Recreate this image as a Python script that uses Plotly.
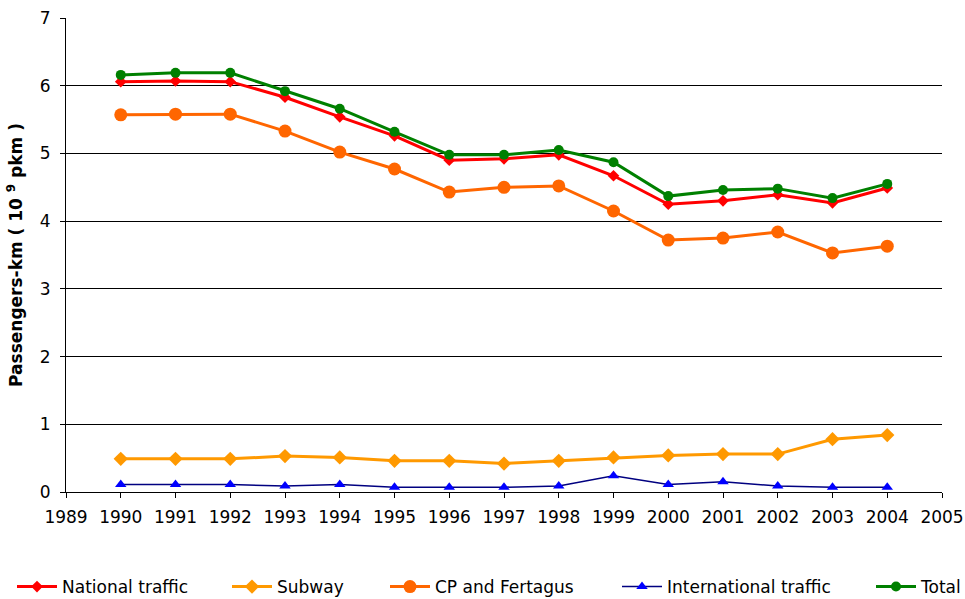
import plotly.graph_objects as go

years = list(range(1990, 2005))
national = [6.06, 6.07, 6.06, 5.83, 5.54, 5.26, 4.90, 4.92, 4.98, 4.67, 4.25, 4.30, 4.39, 4.27, 4.49]
subway = [0.49, 0.49, 0.49, 0.53, 0.51, 0.46, 0.46, 0.42, 0.46, 0.51, 0.54, 0.56, 0.56, 0.78, 0.84]
cp_fertagus = [5.57, 5.58, 5.58, 5.33, 5.02, 4.77, 4.43, 4.50, 4.52, 4.15, 3.72, 3.75, 3.84, 3.53, 3.63]
international = [0.11, 0.11, 0.11, 0.09, 0.11, 0.07, 0.07, 0.07, 0.09, 0.24, 0.11, 0.15, 0.09, 0.07, 0.07]
total = [6.16, 6.19, 6.19, 5.92, 5.66, 5.32, 4.98, 4.98, 5.05, 4.87, 4.37, 4.46, 4.48, 4.34, 4.55]

x_ticks = list(range(1989, 2006))
y_ticks = list(range(0, 8))

FONT = "DejaVu Sans, Verdana, sans-serif"
W, H = 965, 599

# legend item left edges (pixels in the page)
series = [
    ("National traffic", national, dict(color="#FF0000", width=3), dict(symbol="diamond", size=9, color="#FF0000"), "legend", 12),
    ("Subway", subway, dict(color="#FF9900", width=3), dict(symbol="diamond", size=11, color="#FF9900"), "legend2", 227),
    ("CP and Fertagus", cp_fertagus, dict(color="#FF6600", width=3), dict(symbol="circle", size=13, color="#FF6600"), "legend3", 385),
    ("International traffic", international, dict(color="#000080", width=1.5), dict(symbol="triangle-up", size=10, color="#0000FF"), "legend4", 617),
    ("Total", total, dict(color="#008000", width=3), dict(symbol="circle", size=10, color="#008000"), "legend5", 871),
]

fig = go.Figure()
legends = {}
for name, vals, line, marker, lg, lx in series:
    fig.add_trace(go.Scatter(x=years, y=vals, name=name, mode="lines+markers",
                             line=line, marker=marker, legend=lg, showlegend=True))
    legends[lg] = dict(orientation="h", xref="container", yref="container",
                       x=lx / W, xanchor="left", y=1 - 587 / H, yanchor="middle",
                       font=dict(family=FONT, size=17, color="#000000"),
                       bgcolor="rgba(0,0,0,0)", itemwidth=40)

fig.update_layout(
    width=W, height=H,
    showlegend=True,
    margin=dict(l=66, r=23, t=18, b=107, autoexpand=False),
    paper_bgcolor="white", plot_bgcolor="white",
    font=dict(family=FONT, size=16, color="#000000"),
    **legends,
)

fig.update_xaxes(range=[1989, 2005], tickvals=x_ticks, ticktext=[str(v) for v in x_ticks],
                 showgrid=False, showline=True, linecolor="#000000", linewidth=1,
                 ticks="outside", ticklen=5, tickcolor="#000000", zeroline=False,
                 automargin=False, ticklabelstandoff=5, tickfont=dict(family=FONT, size=17))
fig.update_yaxes(range=[0, 7], tickvals=y_ticks, showgrid=True, gridcolor="#000000", gridwidth=1,
                 showline=True, linecolor="#000000", linewidth=1, ticks="outside", ticklen=5,
                 tickcolor="#000000", zeroline=False, automargin=False, ticklabelstandoff=6,
                 tickfont=dict(family=FONT, size=17),
                 title=dict(text="<b>Passengers-km ( 10 <sup>9</sup> pkm )</b>",
                            font=dict(family=FONT, size=17), standoff=12))

fig.write_html("out.html", post_script="document.body.style.margin='0px';",
               config={"displayModeBar": False})
